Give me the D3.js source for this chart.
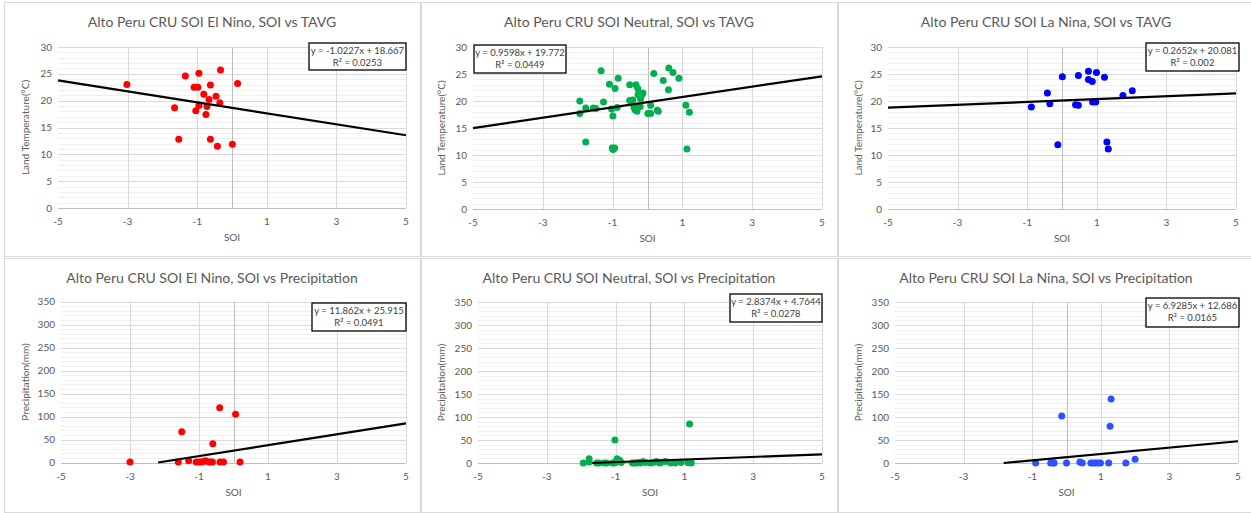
<!DOCTYPE html>
<html lang="en">
<head>
<meta charset="UTF-8">
<title>Alto Peru CRU SOI vs TAVG / Precipitation</title>
<style>
  body { margin: 0; background: #fff; font-family: Lato, "Open Sans", sans-serif; }
  svg { display: block; }
  .frame { fill: #fff; stroke: #d9d9d9; }
  .minor { stroke: #f0f0f0; }
  .major { stroke: #d9d9d9; }
  .axis0 { stroke: #bfbfbf; }
  .tick-label { fill: #595959; font-size: 10px; }
  .title { fill: #595959; font-size: 14px; }
  .axis-title { fill: #595959; font-size: 10px; }
  .eq { fill: #404040; font-size: 9.5px; }
  .eq-box { fill: #fff; stroke: #000; stroke-width: 1.3px; }
  .trend { stroke: #000; stroke-width: 2.2px; fill: none; }
</style>
</head>
<body>
<script src="https://d3js.org/d3.v7.min.js"></script>
<script>
// [SOI, value] pairs
const elNinoTavg = [[-3.02,23.0],[-1.34,24.6],[-0.95,25.1],[-0.33,25.7],[0.16,23.2],[-1.09,22.5],[-0.98,22.5],
  [-0.62,22.9],[-0.81,21.2],[-0.46,20.8],[-0.66,20.2],[-0.35,19.6],[-1.65,18.7],[-0.95,19.1],[-0.72,18.9],
  [-1.04,18.1],[-0.75,17.4],[-1.53,12.8],[-0.62,12.8],[-0.42,11.5],[0.01,11.9]];
const neutralTavg = [[-1.33,25.6],[-0.84,24.2],[-1.09,23.1],[-0.93,22.3],[-1.94,20.0],[-1.94,17.7],[-1.77,18.7],
  [-1.55,18.7],[-1.48,18.6],[-1.26,19.8],[-1.03,18.5],[-0.99,17.2],[-0.87,18.8],[-1.77,12.4],[-0.99,11.0],
  [-0.94,11.3],[-1.01,11.3],[-0.97,11.1],[-0.51,23.0],[-0.33,23.0],[-0.28,22.3],[-0.27,21.2],[-0.18,20.9],
  [-0.13,21.5],[-0.20,20.4],[-0.51,20.1],[-0.42,20.2],[-0.39,18.9],[-0.36,18.4],[-0.30,18.1],[-0.21,19.0],
  [0.09,19.2],[0.01,17.7],[0.09,17.7],[0.18,25.1],[0.28,18.3],[0.31,18.1],[0.45,23.8],[0.61,26.1],[0.73,25.3],
  [0.60,22.1],[0.90,24.2],[1.10,19.2],[1.20,17.9],[1.13,11.1]];
const laNinaTavg = [[-0.88,18.9],[-0.42,21.5],[-0.35,19.5],[-0.12,11.9],[0.01,24.5],[0.47,24.7],[0.39,19.3],
  [0.47,19.2],[0.76,25.5],[0.76,24.0],[0.87,23.6],[0.88,19.8],[0.97,19.8],[0.99,25.3],[1.22,24.4],[1.29,12.4],
  [1.33,11.1],[1.75,21.0],[2.02,21.9]];
const elNinoPrecip = [[-3.0,1],[-1.5,67],[-1.6,1],[-1.3,4],[-1.08,1],[-1.0,1],[-0.94,1],[-0.87,2],[-0.81,4],
  [-0.71,1],[-0.61,1],[-0.66,1],[-0.6,41],[-0.4,119],[-0.39,1],[-0.29,1],[0.06,105],[0.19,1]];
const neutralPrecip = [[-1.94,0],[-1.77,2],[-1.77,9],[-1.55,0],[-1.48,0],[-1.33,0],[-1.26,0],[-1.09,0],[-1.03,0],
  [-1.02,50],[-0.99,2],[-0.96,9],[-0.93,4],[-0.88,6],[-0.84,1],[-0.51,0],[-0.45,0],[-0.39,0],[-0.33,1],[-0.28,0],
  [-0.2,3],[-0.13,1],[0.01,0],[0.09,1],[0.18,3],[0.28,0],[0.31,1],[0.45,3],[0.6,0],[0.73,0],[0.9,1],[1.1,1],
  [1.15,85],[1.2,0]];
const laNinaPrecip = [[-0.9,0],[-0.46,0],[-0.39,0],[-0.36,0],[-0.14,102],[0.0,0],[0.39,2],[0.46,0],[0.71,0],
  [0.78,0],[0.85,0],[0.92,0],[0.99,0],[1.23,0],[1.27,80],[1.3,139],[1.73,0],[2.0,8]];

// trendline [slope, intercept] and label text
const trends = [[-1.0227,18.667],[0.9598,19.772],[0.2652,20.081],[11.862,25.915],[2.8374,4.7644],[6.9285,12.686]];
const eqLabels = [["y = -1.0227x + 18.667","R² = 0.0253"],["y = 0.9598x + 19.772","R² = 0.0449"],
  ["y = 0.2652x + 20.081","R² = 0.002"],["y = 11.862x + 25.915","R² = 0.0491"],
  ["y = 2.8374x + 4.7644","R² = 0.0278"],["y = 6.9285x + 12.686","R² = 0.0165"]];
const titles = ["Alto Peru CRU SOI El Nino, SOI vs TAVG","Alto Peru CRU SOI Neutral, SOI vs TAVG",
  "Alto Peru CRU SOI La Nina, SOI vs TAVG","Alto Peru CRU SOI El Nino, SOI vs Precipitation",
  "Alto Peru CRU SOI Neutral, SOI vs Precipitation","Alto Peru CRU SOI La Nina, SOI vs Precipitation"];
const xTicks = [-5,-3,-1,1,3,5];
const tavgTicks = [0,5,10,15,20,25,30];
const precipTicks = [0,50,100,150,200,250,300,350];

const series = [elNinoTavg, neutralTavg, laNinaTavg, elNinoPrecip, neutralPrecip, laNinaPrecip];
const colors = ["#ff0000","#00b050","#0000ff","#ff0000","#00b050","#3050ff"];

// pixel layout of each panel
const layout = [
  {px:4, py:2, left:58, right:406, top:47, bottom:208, box:[309,43,97,27]},
  {px:421, py:2, left:473, right:822, top:47, bottom:209, box:[474,45,92,28]},
  {px:838, py:2, left:888, right:1236, top:47, bottom:209, box:[1146,43,93,28]},
  {px:4, py:258, left:61, right:406, top:301.5, bottom:462.5, box:[312,303,94,28]},
  {px:421, py:258, left:478, right:822, top:302, bottom:463, box:[730,294,92,28]},
  {px:838, py:258, left:895, right:1238, top:302, bottom:463, box:[1146,298,93,29]}
];
const panelW = 416, panelH = 254;

const svg = d3.select("body").append("svg").attr("width", 1251).attr("height", 513);

layout.forEach((L, i) => {
  const isTemp = i < 3;
  const yMax = isTemp ? 30 : 350;
  const yStep = isTemp ? 1 : 10;
  const yTicks = isTemp ? tavgTicks : precipTicks;
  const x = d3.scaleLinear().domain([-5, 5]).range([L.left, L.right]);
  const y = d3.scaleLinear().domain([0, yMax]).range([L.bottom, L.top]);
  const g = svg.append("g");

  g.append("rect").attr("class", "frame")
    .attr("x", L.px + 0.5).attr("y", L.py + 0.5).attr("width", panelW).attr("height", panelH);

  // minor horizontal gridlines
  const minor = d3.range(0, yMax + 0.001, yStep).filter(v => !yTicks.includes(v));
  g.selectAll(".minor").data(minor).join("line").attr("class", "minor")
    .attr("x1", L.left).attr("x2", L.right)
    .attr("y1", d => Math.round(y(d)) + 0.5).attr("y2", d => Math.round(y(d)) + 0.5);
  g.selectAll(".hmajor").data(yTicks.slice(1)).join("line").attr("class", "major hmajor")
    .attr("x1", L.left).attr("x2", L.right)
    .attr("y1", d => Math.round(y(d)) + 0.5).attr("y2", d => Math.round(y(d)) + 0.5);
  g.selectAll(".vmajor").data(xTicks.slice(1)).join("line").attr("class", "major vmajor")
    .attr("y1", L.top).attr("y2", L.bottom)
    .attr("x1", d => Math.round(x(d)) + 0.5).attr("x2", d => Math.round(x(d)) + 0.5);
  // axis lines: horizontal at 0, vertical crossing at SOI 0
  g.append("line").attr("class", "axis0")
    .attr("x1", L.left).attr("x2", L.right)
    .attr("y1", Math.round(y(0)) + 0.5).attr("y2", Math.round(y(0)) + 0.5);
  g.append("line").attr("class", "axis0")
    .attr("y1", L.top).attr("y2", L.bottom)
    .attr("x1", Math.round(x(0)) + 0.5).attr("x2", Math.round(x(0)) + 0.5);

  // tick labels
  g.selectAll(".xl").data(xTicks).join("text").attr("class", "tick-label xl")
    .attr("x", d => x(d)).attr("y", L.bottom + 17).attr("text-anchor", "middle").text(d => d);
  g.selectAll(".yl").data(yTicks).join("text").attr("class", "tick-label yl")
    .attr("x", L.left - 6).attr("y", d => y(d) + 3.5).attr("text-anchor", "end").text(d => d);

  // titles
  g.append("text").attr("class", "title").attr("x", L.px + panelW / 2).attr("y", L.py + 25)
    .attr("text-anchor", "middle").text(titles[i]);
  g.append("text").attr("class", "axis-title").attr("x", (L.left + L.right) / 2).attr("y", L.bottom + 33)
    .attr("text-anchor", "middle").text("SOI");
  const ytx = L.px + (i % 3 === 0 ? 25 : 24);
  g.append("text").attr("class", "axis-title")
    .attr("transform", `translate(${ytx},${(L.top + L.bottom) / 2}) rotate(-90)`)
    .attr("text-anchor", "middle").text(isTemp ? "Land Temperature(°C)" : "Precipitation(mm)");

  // points
  g.selectAll(".pt").data(series[i]).join("circle").attr("class", "pt")
    .attr("cx", d => x(d[0])).attr("cy", d => y(d[1])).attr("r", 3.5).attr("fill", colors[i]);

  // trendline, clipped to the value axis
  const [m, b] = trends[i];
  let x0 = -5;
  if (m * x0 + b < 0) x0 = -b / m;
  g.append("line").attr("class", "trend")
    .attr("x1", x(x0)).attr("y1", y(m * x0 + b))
    .attr("x2", x(5)).attr("y2", y(m * 5 + b));

  // equation box
  const [bx, by, bw, bh] = L.box;
  g.append("rect").attr("class", "eq-box").attr("x", bx).attr("y", by).attr("width", bw).attr("height", bh);
  g.append("text").attr("class", "eq").attr("x", bx + bw / 2).attr("y", by + 10.5)
    .attr("text-anchor", "middle").text(eqLabels[i][0]);
  g.append("text").attr("class", "eq").attr("x", bx + bw / 2).attr("y", by + 22.5)
    .attr("text-anchor", "middle").text(eqLabels[i][1]);
});
</script>
</body>
</html>
